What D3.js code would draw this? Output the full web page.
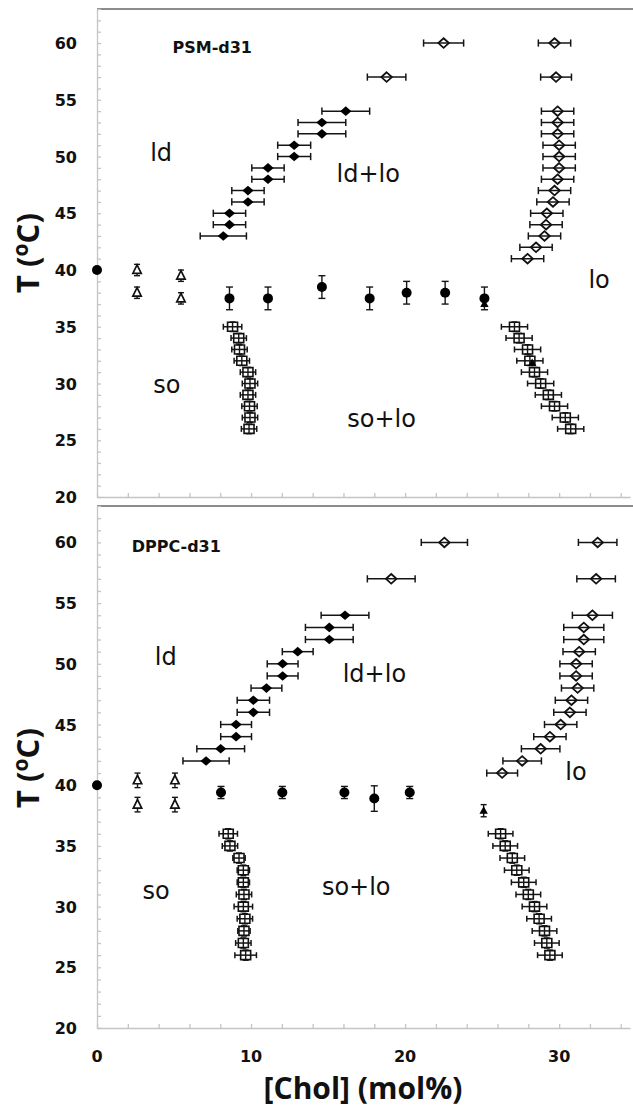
<!DOCTYPE html>
<html>
<head>
<meta charset="utf-8">
<script src="https://cdn.jsdelivr.net/npm/d3@7"></script>
<style>
  html, body { margin: 0; padding: 0; background: #fff; }
  svg { display: block; }
</style>
</head>
<body>
<svg id="chart" width="633" height="1107"></svg>
<script>
// ---------- tick labels ----------
const xTickLabels = [0, 10, 20, 30];
const yTickLabels = [20, 25, 30, 35, 40, 45, 50, 55, 60];
const xDomain = [0, 34.6];
const yDomain = [20, 63];

// ---------- PSM-d31 (top panel) : [Chol mol%, T, error] ----------
const psmLdDiamonds = [
  [8.2, 43, 1.5], [8.6, 44, 1.05], [8.6, 45, 1.05], [9.8, 46, 1.05], [9.8, 47, 1.05],
  [11.1, 48, 1.05], [11.1, 49, 1.05], [12.8, 50, 1.07], [12.8, 51, 1.07],
  [14.6, 52, 1.55], [14.6, 53, 1.55], [16.15, 54, 1.55]
];
const psmLoDiamonds = [
  [18.8, 57, 1.25], [22.5, 60, 1.3],
  [29.7, 60, 1.05], [29.8, 57, 1.0], [29.9, 54, 1.05], [29.9, 53, 1.05], [29.9, 52, 1.05],
  [30.0, 51, 1.05], [30.0, 50, 1.05], [30.0, 49, 1.05], [29.9, 48, 1.05], [29.7, 47, 1.05],
  [29.6, 46, 1.05], [29.2, 45, 1.05], [29.15, 44, 1.05], [29.05, 43, 1.05], [28.5, 42, 1.05],
  [27.95, 41, 1.05]
];
const psmSoSquares = [
  [8.8, 35, 0.6], [9.2, 34, 0.5], [9.25, 33, 0.5], [9.4, 32, 0.5], [9.8, 31, 0.5],
  [9.93, 30, 0.5], [9.8, 29, 0.5], [9.9, 28, 0.5], [9.93, 27, 0.5], [9.87, 26, 0.5]
];
const psmSoLoSquares = [
  [27.1, 35, 0.85], [27.4, 34, 0.85], [27.95, 33, 0.85], [28.1, 32, 0.85], [28.4, 31, 0.85],
  [28.8, 30, 0.85], [29.3, 29, 0.85], [29.7, 28, 0.85], [30.4, 27, 0.85], [30.75, 26, 0.85]
];
const psmCircles = [
  [0, 40, 0], [8.6, 37.5, 1.0], [11.1, 37.5, 1.0], [14.6, 38.5, 1.0], [17.7, 37.5, 1.0],
  [20.1, 38, 1.0], [22.6, 38, 1.0], [25.15, 37.5, 1.0]
];
const psmOpenTriangles = [[2.6, 40, 0.5], [2.6, 38, 0.5], [5.45, 39.5, 0.5], [5.45, 37.5, 0.5]];
const psmFilledTriangles = [[25.15, 37, 0], [28.25, 31.8, 0]];

// ---------- DPPC-d31 (bottom panel) ----------
const dppcLdDiamonds = [
  [7.08, 42, 1.5], [8.03, 43, 1.55], [9.03, 44, 1.0], [9.03, 45, 1.0], [10.15, 46, 1.05],
  [10.15, 47, 1.05], [11.0, 48, 1.0], [12.05, 49, 1.0], [12.05, 50, 1.0], [13.03, 51, 1.0],
  [15.08, 52, 1.55], [15.08, 53, 1.55], [16.1, 54, 1.55]
];
const dppcLoDiamonds = [
  [19.1, 57, 1.55], [22.55, 60, 1.5],
  [32.5, 60, 1.25], [32.4, 57, 1.25], [32.16, 54, 1.3], [31.6, 53, 1.3], [31.6, 52, 1.3],
  [31.3, 51, 1.05], [31.1, 50, 1.05], [31.1, 49, 1.05], [31.2, 48, 1.05], [30.8, 47, 1.05],
  [30.7, 46, 1.05], [30.1, 45, 1.05], [29.4, 44, 1.05], [28.8, 43, 1.25], [27.6, 42, 1.25],
  [26.3, 41, 1.0]
];
const dppcSoSquares = [
  [8.52, 36, 0.6], [8.63, 35, 0.5], [9.22, 34, 0.4], [9.5, 33, 0.4], [9.5, 32, 0.4],
  [9.54, 31, 0.5], [9.5, 30, 0.6], [9.6, 29, 0.5], [9.54, 28, 0.4], [9.5, 27, 0.5],
  [9.65, 26, 0.7]
];
const dppcSoLoSquares = [
  [26.2, 36, 0.8], [26.5, 35, 0.8], [26.96, 34, 0.8], [27.25, 33, 0.8], [27.7, 32, 0.8],
  [28.0, 31, 0.8], [28.4, 30, 0.8], [28.7, 29, 0.8], [29.05, 28, 0.8], [29.2, 27, 0.8],
  [29.4, 26, 0.8]
];
const dppcCircles = [
  [0, 40, 0], [8.05, 39.4, 0.5], [12.03, 39.4, 0.5], [16.06, 39.4, 0.5], [18.0, 38.9, 1.05],
  [20.3, 39.4, 0.5]
];
const dppcOpenTriangles = [[2.63, 40.4, 0.6], [2.63, 38.4, 0.6], [5.06, 40.4, 0.6], [5.06, 38.4, 0.6]];
const dppcFilledTriangles = [[25.1, 37.9, 0.5]];

// ---------- labels ----------
const psmLabels = [
  { t: "PSM-d31", x: 4.9, y: 59.1, cls: "name" },
  { t: "ld", x: 3.45, y: 49.6, cls: "region" },
  { t: "ld+lo", x: 15.55, y: 47.8, cls: "region" },
  { t: "lo", x: 31.9, y: 38.4, cls: "region" },
  { t: "so", x: 3.65, y: 29.2, cls: "region" },
  { t: "so+lo", x: 16.25, y: 26.15, cls: "region" }
];
const dppcLabels = [
  { t: "DPPC-d31", x: 2.25, y: 59.2, cls: "name" },
  { t: "ld", x: 3.75, y: 49.9, cls: "region" },
  { t: "ld+lo", x: 15.95, y: 48.5, cls: "region" },
  { t: "lo", x: 30.4, y: 40.4, cls: "region" },
  { t: "so", x: 2.95, y: 30.65, cls: "region" },
  { t: "so+lo", x: 14.6, y: 30.95, cls: "region" }
];

// ---------- drawing ----------
const svg = d3.select("#chart");
const x = d3.scaleLinear().domain(xDomain).range([97, 630]);

const panels = [
  { range: [497, 9], diamondsF: psmLdDiamonds, diamondsO: psmLoDiamonds,
    squares: psmSoSquares.concat(psmSoLoSquares), circles: psmCircles,
    triO: psmOpenTriangles, triF: psmFilledTriangles, labels: psmLabels, xLabels: false,
    titleY: 253 },
  { range: [1028, 506], diamondsF: dppcLdDiamonds, diamondsO: dppcLoDiamonds,
    squares: dppcSoSquares.concat(dppcSoLoSquares), circles: dppcCircles,
    triO: dppcOpenTriangles, triF: dppcFilledTriangles, labels: dppcLabels, xLabels: true,
    titleY: 768 }
];

const diamondPath = (w, h) => `M0,${-h}L${w},0L0,${h}L${-w},0Z`;
const trianglePath = (w, h) => `M0,${-h * 0.6}L${w},${h * 0.4}L${-w},${h * 0.4}Z`;

function hErr(g, data, y, capH) {
  const s = g.append("g").attr("stroke", "#151515").attr("stroke-width", 1.5).attr("fill", "none");
  data.filter(d => d[2] > 0).forEach(d => {
    const x0 = x(d[0] - d[2]), x1 = x(d[0] + d[2]), yy = y(d[1]);
    s.append("line").attr("x1", x0).attr("x2", x1).attr("y1", yy).attr("y2", yy);
    s.append("line").attr("x1", x0).attr("x2", x0).attr("y1", yy - capH).attr("y2", yy + capH);
    s.append("line").attr("x1", x1).attr("x2", x1).attr("y1", yy - capH).attr("y2", yy + capH);
  });
}
function vErr(g, data, y, capW, errY) {
  const s = g.append("g").attr("stroke", "#151515").attr("stroke-width", 1.4).attr("fill", "none");
  data.forEach(d => {
    const e = errY !== undefined ? errY : d[2];
    if (!(e > 0)) return;
    const y0 = y(d[1] - e), y1 = y(d[1] + e), xx = x(d[0]);
    s.append("line").attr("x1", xx).attr("x2", xx).attr("y1", y0).attr("y2", y1);
    s.append("line").attr("x1", xx - capW).attr("x2", xx + capW).attr("y1", y0).attr("y2", y0);
    s.append("line").attr("x1", xx - capW).attr("x2", xx + capW).attr("y1", y1).attr("y2", y1);
  });
}

panels.forEach(p => {
  const y = d3.scaleLinear().domain(yDomain).range(p.range);
  const g = svg.append("g");

  // frame top border
  g.append("line").attr("x1", x(0)).attr("x2", 633)
    .attr("y1", y(63)).attr("y2", y(63))
    .attr("stroke", "#8c8c8c").attr("stroke-width", 2);

  // y axis with minor ticks (inside)
  const yAx = g.append("g").attr("transform", `translate(${x(0)},0)`)
    .call(d3.axisRight(y).tickValues(d3.range(20, 63.5, 1)).tickSize(4).tickSizeOuter(0).tickFormat(""));
  yAx.selectAll("path,line").attr("stroke", "#c4c4c4").attr("stroke-width", 1.3);

  // x axis with minor ticks (inside)
  const xAx = g.append("g").attr("transform", `translate(0,${y(20)})`)
    .call(d3.axisTop(x).tickValues(d3.range(0, 35, 2)).tickSize(4).tickSizeOuter(0).tickFormat(""));
  xAx.selectAll("path,line").attr("stroke", "#c4c4c4").attr("stroke-width", 1.3);

  // y tick labels
  g.append("g").selectAll("text").data(yTickLabels).join("text")
    .attr("x", 77).attr("y", d => y(d) + 6)
    .attr("text-anchor", "end")
    .attr("font-family", "DejaVu Sans").attr("font-weight", "bold").attr("font-size", 16)
    .attr("fill", "#111").text(d => d);

  if (p.xLabels) {
    g.append("g").selectAll("text").data(xTickLabels).join("text")
      .attr("x", d => x(d)).attr("y", 1062)
      .attr("text-anchor", "middle")
      .attr("font-family", "DejaVu Sans").attr("font-weight", "bold").attr("font-size", 16)
      .attr("fill", "#111").text(d => d);
  }

  // y title
  const yt = g.append("text")
    .attr("transform", `translate(39,${p.titleY}) rotate(-90)`)
    .attr("text-anchor", "middle")
    .attr("font-family", "Open Sans").attr("font-weight", "bold").attr("font-size", 31)
    .attr("fill", "#111");
  yt.append("tspan").text("T (");
  yt.append("tspan").attr("font-size", 21).attr("dy", -11).text("o");
  yt.append("tspan").attr("dy", 11).text("C)");

  // error bars
  hErr(g, p.diamondsF, y, 3.6);
  hErr(g, p.diamondsO, y, 3.6);
  hErr(g, p.squares, y, 3);
  vErr(g, p.squares, y, 3, 0.42);
  vErr(g, p.circles, y, 3.5);
  vErr(g, p.triO, y, 3);
  vErr(g, p.triF, y, 3);

  // markers
  g.append("g").selectAll("path").data(p.squares).join("path")
    .attr("transform", d => `translate(${x(d[0])},${y(d[1])})`)
    .attr("d", "M-5,-4.5H5V4.5H-5Z")
    .attr("fill", "none").attr("stroke", "#111").attr("stroke-width", 1.6);

  g.append("g").selectAll("path").data(p.diamondsO).join("path")
    .attr("transform", d => `translate(${x(d[0])},${y(d[1])})`)
    .attr("d", diamondPath(5.3, 4.8))
    .attr("fill", "none").attr("stroke", "#111").attr("stroke-width", 1.8);

  g.append("g").selectAll("path").data(p.diamondsF).join("path")
    .attr("transform", d => `translate(${x(d[0])},${y(d[1])})`)
    .attr("d", diamondPath(5.6, 4.8))
    .attr("fill", "#000");

  g.append("g").selectAll("circle").data(p.circles).join("circle")
    .attr("cx", d => x(d[0])).attr("cy", d => y(d[1])).attr("r", 5)
    .attr("fill", "#000");

  g.append("g").selectAll("path").data(p.triO).join("path")
    .attr("transform", d => `translate(${x(d[0])},${y(d[1])})`)
    .attr("d", trianglePath(4.2, 8.5))
    .attr("fill", "#fff").attr("stroke", "#111").attr("stroke-width", 1.7);

  g.append("g").selectAll("path").data(p.triF).join("path")
    .attr("transform", d => `translate(${x(d[0])},${y(d[1])})`)
    .attr("d", trianglePath(4.2, 7.5))
    .attr("fill", "#000");

  // labels
  g.append("g").selectAll("text").data(p.labels).join("text")
    .attr("x", d => x(d.x)).attr("y", d => y(d.y))
    .attr("font-family", "DejaVu Sans")
    .attr("font-weight", d => d.cls === "name" ? "bold" : "normal")
    .attr("font-size", d => d.cls === "name" ? 16 : 24)
    .attr("fill", "#111")
    .text(d => d.t);
});

// x title
svg.append("text")
  .attr("x", 363).attr("y", 1099)
  .attr("text-anchor", "middle")
  .attr("font-family", "Open Sans").attr("font-weight", "bold").attr("font-size", 30)
  .attr("fill", "#111")
  .text("[Chol] (mol%)");
</script>
</body>
</html>
